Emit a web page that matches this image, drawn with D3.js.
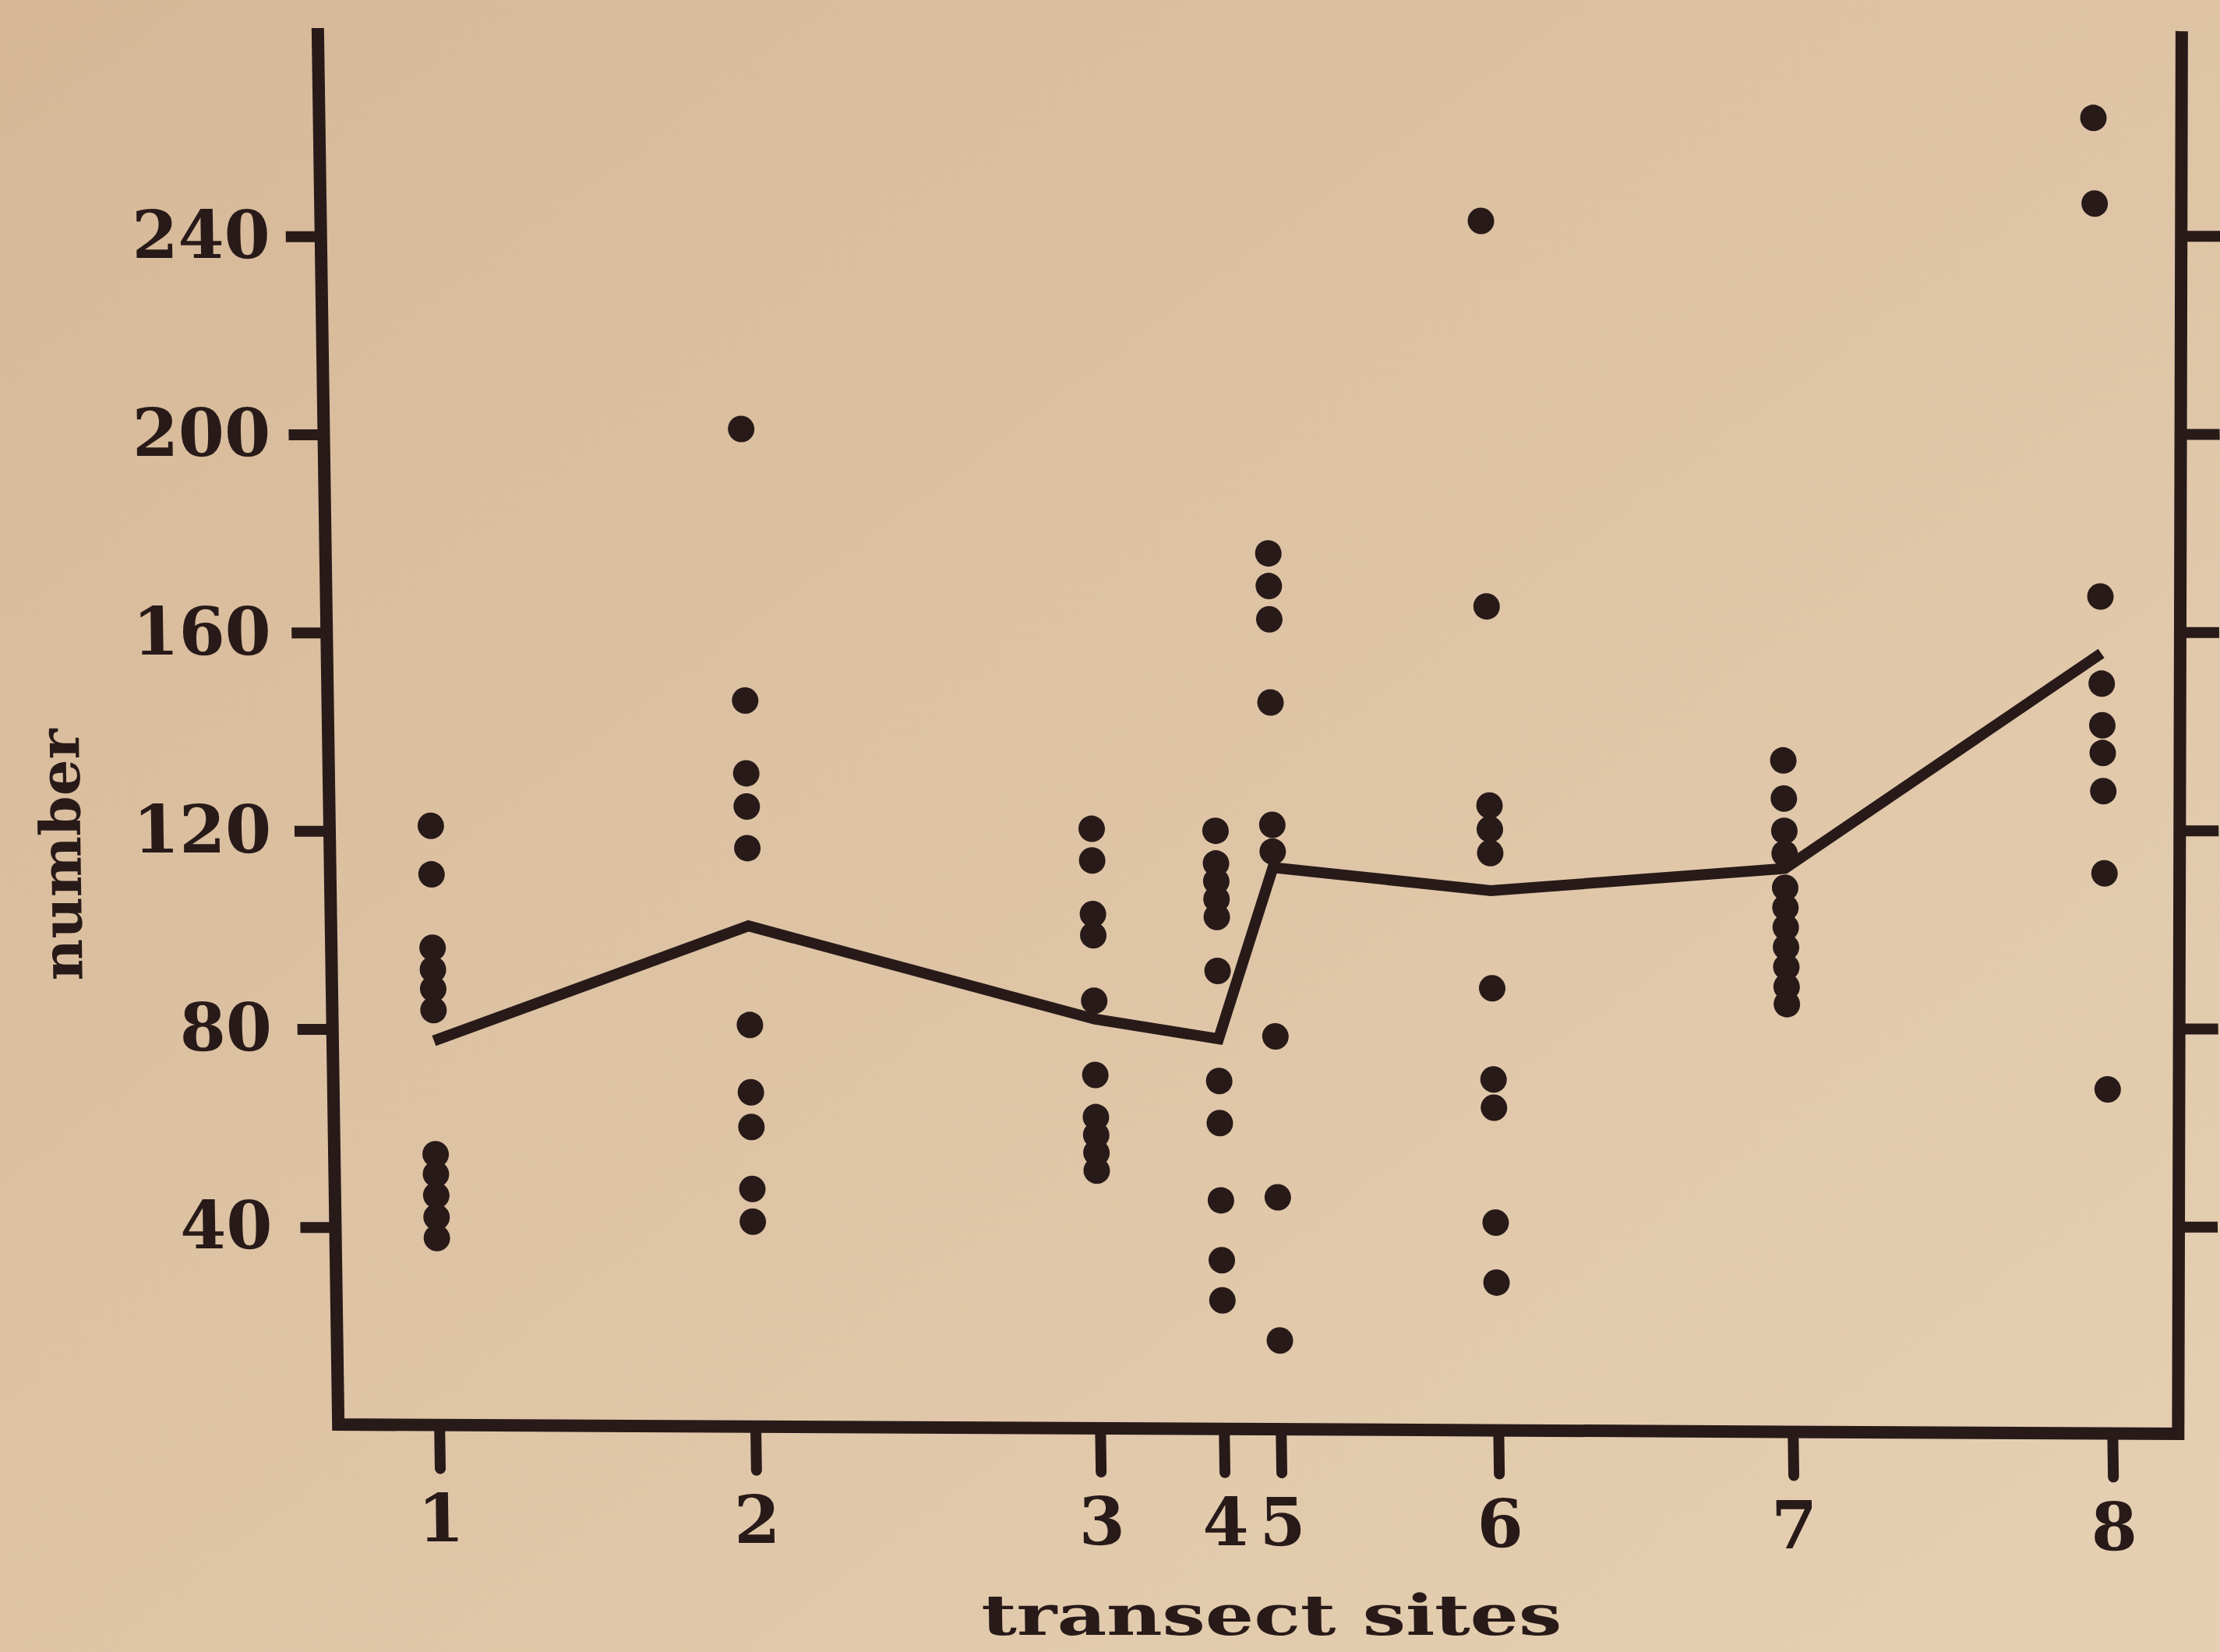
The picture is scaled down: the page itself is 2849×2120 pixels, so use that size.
<!DOCTYPE html>
<html>
<head>
<meta charset="utf-8">
<script src="https://cdn.jsdelivr.net/npm/d3@7/dist/d3.min.js"></script>
<style>
  html, body { margin: 0; padding: 0; background: #dcc2a3; }
  svg { display: block; }
</style>
</head>
<body>
<script>

// transect sites, their relative position along the transect, and the counts
var siteLabels = ['1', '2', '3', '4', '5', '6', '7', '8'];
var sitePositions = [0, 18.9, 39.5, 46.9, 50.3, 63.3, 80.9, 100];
var meanCounts = [77.6, 100.8, 82.0, 78.0, 112.6, 107.9, 112.4, 155.8];

var site1Counts = [121.0, 111.2, 96.4, 92.0, 88.1, 83.8, 54.7, 50.7, 46.4, 42.0, 37.8];
var site2Counts = [201.1, 146.3, 131.6, 124.9, 116.5, 80.8, 67.2, 60.2, 47.7, 41.1];
var site3Counts = [120.4, 114.0, 103.2, 98.9, 85.7, 70.7, 62.2, 58.6, 55.0, 51.4];
var site4Counts = [120.0, 113.4, 109.8, 106.2, 102.6, 91.7, 69.5, 61.0, 45.4, 33.3, 25.2];
var site5Counts = [176.0, 169.4, 162.7, 145.9, 121.2, 115.8, 78.5, 46.0, 17.1];
var site6Counts = [243.1, 165.3, 125.1, 120.3, 115.5, 88.2, 69.8, 64.1, 40.9, 28.8];
var site7Counts = [134.2, 126.5, 120.0, 115.4, 108.5, 104.5, 100.5, 96.5, 92.5, 88.5, 85.0];
var site8Counts = [263.9, 246.6, 167.3, 149.7, 141.3, 135.7, 128.0, 111.4, 67.8];
var siteCounts = [site1Counts, site2Counts, site3Counts, site4Counts,
	site5Counts, site6Counts, site7Counts, site8Counts];

var yTicks = [40, 80, 120, 160, 200, 240];

var width = 2849;
var height = 2120;
var ink = '#281a19';
var font = '"DejaVu Serif", serif';

// hand drawn frame, open at the top, a bit out of square
var frame = {
	left: 422, top: 36, bottomLeft: 1828,
	bottomRight: 1840, rightBottom: 2783, rightTop: 2814, topRight: 40
};

function bottomAt(px) {
	return frame.bottomLeft + (frame.bottomRight - frame.bottomLeft) *
		(px - frame.left) / (frame.rightBottom - frame.left);
}

function rightAt(py) {
	return frame.rightTop + (frame.rightBottom - frame.rightTop) *
		(py - frame.topRight) / (frame.bottomRight - frame.topRight);
}

var svg = d3.select('body')
	.append('svg')
		.attr('width', width)
		.attr('height', height);

// paper background, a little darker at the top left
var grad = svg.append('defs')
	.append('linearGradient')
		.attr('id', 'paper')
		.attr('x1', '0%').attr('y1', '0%')
		.attr('x2', '100%').attr('y2', '100%');
grad.append('stop').attr('offset', '0%').style('stop-color', '#d6b897');
grad.append('stop').attr('offset', '100%').style('stop-color', '#e6d0b3');

svg.append('rect')
	.attr('width', width)
	.attr('height', height)
	.attr('fill', 'url(#paper)');

// the photographed page is slightly sheared
var chart = svg.append('g')
	.attr('transform', 'translate(-14.7,0) skewX(0.842)');

var x = d3.scaleLinear().domain([0, 100]).range([552, 2699]);
var y = d3.scaleLinear().domain([0, 280]).range([1829, 49]);

chart.append('path')
	.attr('d', 'M' + frame.left + ',' + frame.top +
		'L' + frame.left + ',' + frame.bottomLeft +
		'L' + frame.rightBottom + ',' + frame.bottomRight +
		'L' + frame.rightTop + ',' + frame.topRight)
	.attr('fill', 'none')
	.attr('stroke', ink)
	.attr('stroke-width', 16)
	.attr('stroke-linejoin', 'miter');

function styleAxis(g) {
	g.select('.domain').remove();
	g.selectAll('.tick line')
		.attr('stroke', ink)
		.attr('stroke-width', 14);
	g.selectAll('.tick text')
		.attr('fill', ink)
		.style('font-family', font)
		.style('font-weight', 'bold')
		.style('font-size', '85px');
}

var leftAxis = chart.append('g')
	.attr('transform', 'translate(' + frame.left + ',0)')
	.call(d3.axisLeft(y).tickValues(yTicks).tickSize(45).tickPadding(36))
	.call(styleAxis);
// the typed labels sit straighter than the drawn axis
leftAxis.selectAll('.tick text')
	.attr('x', function(d) { return -81 + 0.0125 * (y(40) - y(d)); });

var rightAxis = chart.append('g')
	.call(d3.axisRight(y).tickValues(yTicks).tickSize(50).tickFormat(''))
	.call(styleAxis);
rightAxis.selectAll('.tick')
	.attr('transform', function(d) { return 'translate(' + rightAt(y(d)) + ',' + y(d) + ')'; });

var xAxis = chart.append('g')
	.attr('transform', 'translate(0,' + frame.bottomLeft + ')')
	.call(d3.axisBottom(x)
		.tickValues(sitePositions)
		.tickSize(56)
		.tickPadding(33)
		.tickFormat(function(d, i) { return siteLabels[i]; }))
	.call(styleAxis);
xAxis.selectAll('.tick')
	.attr('transform', function(d) {
		return 'translate(' + x(d) + ',' + (bottomAt(x(d)) - frame.bottomLeft) + ')';
	});
xAxis.selectAll('.tick line').attr('stroke-linecap', 'round');

// mean line
chart.append('path')
	.datum(meanCounts)
	.attr('d', d3.line()
		.x(function(d, i) { return x(sitePositions[i]); })
		.y(function(d) { return y(d); }))
	.attr('fill', 'none')
	.attr('stroke', ink)
	.attr('stroke-width', 14)
	.attr('stroke-linejoin', 'miter');

// individual counts
siteCounts.forEach(function(counts, i) {
	chart.append('g')
		.selectAll('circle')
		.data(counts)
		.enter()
		.append('circle')
			.attr('cx', x(sitePositions[i]))
			.attr('cy', function(d) { return y(d); })
			.attr('r', 17)
			.attr('fill', ink);
});

// axis titles
chart.append('text')
	.attr('x', 1616)
	.attr('y', 2098)
	.attr('text-anchor', 'middle')
	.attr('textLength', 745)
	.attr('lengthAdjust', 'spacingAndGlyphs')
	.attr('fill', ink)
	.style('font-family', font)
	.style('font-weight', 'bold')
	.style('font-size', '72px')
	.text('transect sites');

chart.append('text')
	.attr('transform', 'translate(102,1097) rotate(-90)')
	.attr('text-anchor', 'middle')
	.attr('textLength', 323)
	.attr('lengthAdjust', 'spacingAndGlyphs')
	.attr('fill', ink)
	.style('font-family', font)
	.style('font-weight', 'bold')
	.style('font-size', '72px')
	.text('number');

</script>
</body>
</html>
